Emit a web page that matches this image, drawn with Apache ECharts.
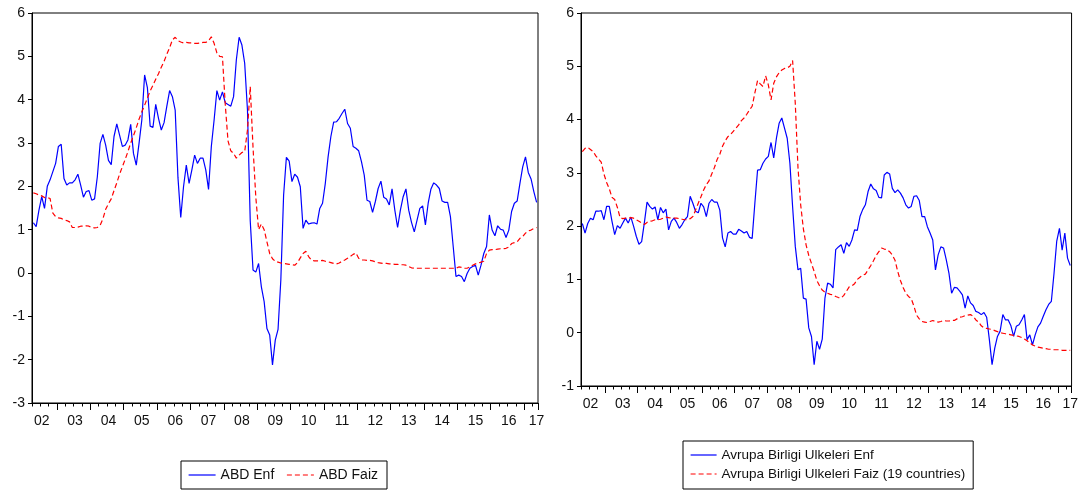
<!DOCTYPE html>
<html>
<head>
<meta charset="utf-8">
<script src="https://cdn.jsdelivr.net/npm/echarts@6/dist/echarts.min.js"></script>
<style>
html,body{margin:0;padding:0;background:#fff;}
#c{width:1081px;height:492px;}
</style>
</head>
<body>
<div id="c"></div>
<script>
// Monthly categories 2002M04 .. 2017M05
const months = [];
(function(){ let y = 2002, m = 4; while (!(y === 2017 && m === 6)) { months.push(y + '-' + String(m).padStart(2, '0')); m++; if (m > 12) { m = 1; y++; } } })();

const leftSeriesNames = ['ABD Enf', 'ABD Faiz'];
const rightSeriesNames = ['Avrupa Birligi Ulkeleri Enf', 'Avrupa Birligi Ulkeleri Faiz (19 countries)'];

const leftYTicks = { min: -3, max: 6, step: 1 };
const rightYTicks = { min: -1, max: 6, step: 1 };

const abdEnf = [
 1.16,1.07,1.45,1.76,1.49,2.0,2.15,2.34,2.53,2.92,
 2.97,2.18,2.03,2.08,2.08,2.15,2.28,2.03,1.75,1.88,
 1.9,1.68,1.71,2.22,2.99,3.2,2.95,2.6,2.5,3.15,
 3.44,3.18,2.92,2.95,3.07,3.43,2.76,2.49,2.99,3.53,
 4.57,4.28,3.39,3.36,3.89,3.57,3.3,3.47,3.85,4.21,
 4.07,3.76,2.2,1.28,1.99,2.49,2.07,2.38,2.72,2.53,
 2.65,2.65,2.38,1.93,2.92,3.53,4.21,3.99,4.18,3.93,
 3.89,3.85,4.07,4.92,5.44,5.26,4.84,3.76,1.2,0.07,
 0.02,0.22,-0.32,-0.66,-1.28,-1.43,-2.12,-1.55,-1.3,-0.16,
 1.8,2.67,2.58,2.11,2.28,2.21,1.99,1.03,1.22,1.13,
 1.15,1.16,1.13,1.49,1.61,2.07,2.68,3.15,3.48,3.49,
 3.57,3.68,3.78,3.45,3.34,2.92,2.88,2.82,2.57,2.26,
 1.68,1.65,1.4,1.65,1.95,2.12,1.75,1.71,1.57,1.94,
 1.45,1.05,1.45,1.76,1.94,1.45,1.17,0.95,1.22,1.49,
 1.55,1.11,1.61,1.94,2.08,2.03,1.95,1.66,1.63,1.63,
 1.3,0.61,-0.08,-0.05,-0.08,-0.2,-0.01,0.11,0.15,0.18,
 -0.05,0.18,0.45,0.61,1.34,0.99,0.86,1.09,1.01,0.99,
 0.82,0.99,1.42,1.61,1.66,2.07,2.45,2.68,2.32,2.17,
 1.88,1.63
];
const abdFaiz = [
 1.85,1.83,1.8,1.78,1.74,1.74,1.72,1.38,1.3,1.27,
 1.26,1.23,1.21,1.18,1.05,1.05,1.06,1.08,1.08,1.09,
 1.08,1.05,1.04,1.05,1.1,1.25,1.47,1.6,1.71,1.9,
 2.08,2.28,2.45,2.62,2.8,3.0,3.17,3.35,3.55,3.72,
 3.87,4.04,4.2,4.33,4.47,4.6,4.75,4.88,5.05,5.2,
 5.38,5.44,5.36,5.33,5.31,5.32,5.31,5.31,5.3,5.3,
 5.31,5.32,5.32,5.36,5.45,5.3,5.08,5.0,4.99,3.9,
 3.05,2.82,2.76,2.65,2.72,2.78,2.8,3.3,4.3,2.9,
 1.75,1.0,1.13,1.0,0.72,0.45,0.33,0.27,0.25,0.23,
 0.22,0.21,0.2,0.19,0.18,0.24,0.35,0.45,0.5,0.38,
 0.3,0.28,0.28,0.28,0.29,0.27,0.26,0.24,0.22,0.21,
 0.23,0.27,0.3,0.34,0.38,0.43,0.46,0.34,0.3,0.3,
 0.29,0.29,0.28,0.26,0.24,0.23,0.22,0.22,0.21,0.21,
 0.2,0.2,0.19,0.19,0.18,0.15,0.12,0.11,0.11,0.11,
 0.11,0.11,0.11,0.11,0.11,0.11,0.11,0.11,0.11,0.11,
 0.11,0.11,0.11,0.14,0.13,0.11,0.11,0.14,0.18,0.21,
 0.23,0.25,0.27,0.45,0.53,0.54,0.54,0.55,0.56,0.56,
 0.57,0.6,0.68,0.7,0.72,0.8,0.84,0.92,0.97,0.99,
 1.03,1.05
];
const abEnf = [
 2.05,1.87,2.05,2.15,2.12,2.28,2.28,2.29,2.12,2.37,
 2.37,2.09,1.84,2.01,1.96,2.06,2.15,2.06,2.17,2.0,
 1.81,1.66,1.71,2.06,2.45,2.37,2.32,2.36,2.12,2.35,
 2.25,2.32,1.93,2.09,2.15,2.07,1.96,2.03,2.12,2.18,
 2.56,2.43,2.28,2.25,2.43,2.36,2.18,2.43,2.5,2.45,
 2.45,2.3,1.78,1.61,1.87,1.9,1.85,1.85,1.94,1.91,
 1.87,1.9,1.79,1.77,2.43,3.05,3.06,3.18,3.26,3.31,
 3.57,3.28,3.65,3.93,4.03,3.84,3.65,3.18,2.37,1.62,
 1.18,1.21,0.65,0.63,0.09,-0.07,-0.6,-0.16,-0.31,-0.12,
 0.65,0.93,0.91,0.84,1.56,1.61,1.65,1.49,1.69,1.62,
 1.74,1.93,1.92,2.18,2.31,2.4,2.65,2.79,2.7,2.67,
 2.54,2.53,2.96,3.01,2.98,2.71,2.63,2.68,2.62,2.53,
 2.4,2.34,2.37,2.56,2.57,2.48,2.18,2.18,1.99,1.87,
 1.74,1.18,1.46,1.61,1.59,1.37,1.12,0.74,0.85,0.84,
 0.78,0.71,0.46,0.69,0.56,0.51,0.4,0.38,0.34,0.38,
 0.29,-0.13,-0.6,-0.29,-0.07,0.03,0.34,0.24,0.24,0.13,
 -0.07,0.12,0.15,0.24,0.34,-0.13,-0.04,-0.23,-0.04,0.11,
 0.18,0.31,0.43,0.53,0.59,1.12,1.72,1.96,1.55,1.87,
 1.4,1.26
];
const abFaiz = [
 3.4,3.46,3.48,3.44,3.4,3.32,3.26,3.2,2.98,2.82,
 2.7,2.54,2.5,2.35,2.16,2.14,2.15,2.15,2.16,2.15,
 2.12,2.09,2.06,2.03,2.07,2.09,2.1,2.12,2.12,2.13,
 2.15,2.17,2.16,2.15,2.15,2.15,2.14,2.13,2.12,2.12,
 2.14,2.18,2.3,2.43,2.55,2.68,2.78,2.85,2.98,3.1,
 3.25,3.35,3.5,3.6,3.68,3.72,3.78,3.84,3.9,3.98,
 4.03,4.1,4.18,4.25,4.5,4.73,4.67,4.62,4.82,4.65,
 4.37,4.68,4.8,4.88,4.93,4.96,4.97,5.0,5.11,4.3,
 3.1,2.4,1.95,1.65,1.45,1.3,1.15,0.98,0.88,0.8,
 0.76,0.74,0.72,0.71,0.68,0.66,0.65,0.7,0.78,0.86,
 0.88,0.92,1.0,1.04,1.08,1.1,1.18,1.26,1.35,1.45,
 1.52,1.59,1.57,1.56,1.52,1.46,1.36,1.15,0.98,0.85,
 0.74,0.68,0.64,0.5,0.33,0.26,0.21,0.2,0.19,0.21,
 0.23,0.21,0.2,0.21,0.23,0.22,0.22,0.23,0.23,0.26,
 0.29,0.3,0.32,0.33,0.34,0.31,0.24,0.2,0.13,0.09,
 0.08,0.07,0.06,0.04,0.02,0.0,-0.01,-0.02,-0.03,-0.04,
 -0.05,-0.06,-0.07,-0.09,-0.12,-0.15,-0.19,-0.23,-0.25,-0.27,
 -0.28,-0.29,-0.3,-0.31,-0.31,-0.32,-0.32,-0.32,-0.33,-0.33,
 -0.33,-0.33
];

const FONT = '"Liberation Sans", Arial, Helvetica, sans-serif';
const TXT = '#111';
const BLUE = '#0000ff';
const RED = '#ff0000';

function xAxesFor(gridIndex) {
  return [
    {
      type: 'category', gridIndex: gridIndex, data: months, boundaryGap: true, position: 'bottom',
      axisLine: { show: true, onZero: false, lineStyle: { color: '#000', width: 1 } },
      axisTick: { show: true, length: 7, interval: function (i) { return (i + 3) % 12 === 0; }, lineStyle: { color: '#000', width: 1 } },
      axisLabel: {
        interval: function (i) { return i % 12 === 3 || i === months.length - 1; },
        formatter: function (v) { return v.slice(2, 4); },
        margin: 11, color: TXT, fontSize: 14, fontFamily: FONT
      },
      splitLine: { show: false }
    },
    {
      type: 'category', gridIndex: gridIndex, data: months, boundaryGap: true, position: 'bottom',
      axisLine: { show: false, onZero: false },
      axisTick: { show: true, length: 3.5, interval: function (i) { return i % 3 === 0; }, lineStyle: { color: '#000', width: 1 } },
      axisLabel: { show: false },
      splitLine: { show: false }
    }
  ];
}

function yAxisFor(gridIndex, t) {
  return {
    type: 'value', gridIndex: gridIndex, min: t.min, max: t.max, interval: t.step,
    axisLine: { show: true, onZero: false, lineStyle: { color: '#000', width: 1 } },
    axisTick: { show: true, inside: false, length: 4, lineStyle: { color: '#000' } },
    axisLabel: { margin: 7, color: TXT, fontSize: 14, fontFamily: FONT },
    splitLine: { show: false }
  };
}

function lineSeries(name, data, xi, yi, color, dashed) {
  return {
    name: name, type: 'line', data: data, xAxisIndex: xi, yAxisIndex: yi,
    symbol: 'none', smooth: false, animation: false,
    lineStyle: { color: color, width: 1.2, type: dashed ? [5, 3] : 'solid' },
    itemStyle: { color: color },
    emphasis: { disabled: true }
  };
}

const legendCommon = {
  itemHeight: 14, borderColor: '#000', borderWidth: 1, backgroundColor: '#fff',
  selectedMode: false,
  itemStyle: { opacity: 0, borderWidth: 0 },
  lineStyle: { width: 1.2 }
};

const chart = echarts.init(document.getElementById('c'), null, { renderer: 'canvas' });
chart.setOption({
  backgroundColor: '#fff',
  animation: false,
  grid: [
    { left: 32, top: 13, width: 506, height: 390, show: true, borderColor: '#000', borderWidth: 1, containLabel: false },
    { left: 581, top: 13, width: 495, height: 373, show: true, borderColor: '#000', borderWidth: 1, containLabel: false }
  ],
  xAxis: xAxesFor(0).concat(xAxesFor(1)),
  yAxis: [yAxisFor(0, leftYTicks), yAxisFor(1, rightYTicks)],
  legend: [
    Object.assign({}, legendCommon, {
      data: leftSeriesNames, left: 181, top: 461, orient: 'horizontal',
      itemWidth: 27, itemGap: 12, padding: [7, 9, 7, 7],
      textStyle: { fontSize: 14, color: TXT, fontFamily: FONT }
    }),
    Object.assign({}, legendCommon, {
      data: rightSeriesNames, left: 683, top: 441, orient: 'vertical',
      itemWidth: 26, itemGap: 5, padding: [7, 8, 8, 7],
      textStyle: { fontSize: 13.5, color: TXT, fontFamily: FONT }
    })
  ],
  series: [
    lineSeries(leftSeriesNames[0], abdEnf, 0, 0, BLUE, false),
    lineSeries(leftSeriesNames[1], abdFaiz, 0, 0, RED, true),
    lineSeries(rightSeriesNames[0], abEnf, 2, 1, BLUE, false),
    lineSeries(rightSeriesNames[1], abFaiz, 2, 1, RED, true)
  ]
});
</script>
</body>
</html>
